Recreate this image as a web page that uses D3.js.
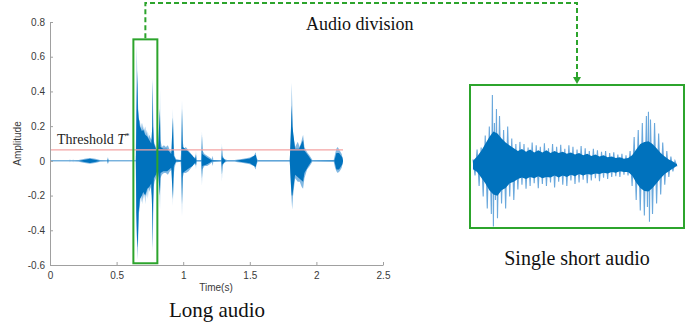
<!DOCTYPE html>
<html>
<head>
<meta charset="utf-8">
<script src="https://cdn.jsdelivr.net/npm/d3@7"></script>
<style>
  body { margin: 0; background: #fff; }
  svg { display: block; }
</style>
</head>
<body>
<div id="chart"></div>
<script>
// axis ticks
const xTicks = [0, 0.5, 1, 1.5, 2, 2.5];
const yTicks = [-0.6, -0.4, -0.2, 0, 0.2, 0.4, 0.6, 0.8];

// threshold T* and the cut-out window (time s, amplitude)
const threshold = 0.063;
const thresholdEnd = 2.2;
const windowT = [0.626, 0.806];
const windowA = [-0.59, 0.7];

// long audio envelope: [time, upper, lower]; outer = light tips, body = dark fill
const longOuter = [
  [0, 0.004, -0.004], [0.148, 0.004, -0.004], [0.150, 0.012, -0.01], [0.152, 0.004, -0.004],
  [0.171, 0.004, -0.004], [0.173, 0.01, -0.01], [0.175, 0.004, -0.004],
  [0.215, 0.005, -0.005], [0.26, 0.012, -0.012], [0.30, 0.017, -0.016], [0.34, 0.012, -0.012], [0.375, 0.005, -0.005],
  [0.43, 0.004, -0.004], [0.435, 0.022, -0.02], [0.44, 0.004, -0.004],
  [0.643, 0.004, -0.004], [0.647, 0.2, -0.2], [0.651, 0.67, -0.4], [0.656, 0.45, -0.57], [0.662, 0.3, -0.45],
  [0.668, 0.24, -0.3], [0.675, 0.23, -0.26], [0.68, 0.19, -0.2], [0.685, 0.22, -0.24], [0.69, 0.18, -0.19],
  [0.695, 0.22, -0.25], [0.70, 0.17, -0.19], [0.705, 0.2, -0.22], [0.71, 0.17, -0.18], [0.715, 0.2, -0.25],
  [0.72, 0.15, -0.17], [0.725, 0.18, -0.21], [0.73, 0.14, -0.16], [0.735, 0.17, -0.22], [0.74, 0.13, -0.15],
  [0.745, 0.15, -0.18], [0.755, 0.13, -0.15], [0.765, 0.12, -0.2],
  [0.768, 0.3, -0.3], [0.771, 0.48, -0.53], [0.774, 0.3, -0.35], [0.778, 0.12, -0.15], [0.785, 0.1, -0.12],
  [0.795, 0.08, -0.1], [0.803, 0.06, -0.08], [0.81, 0.08, -0.06], [0.82, 0.06, -0.1],
  [0.823, 0.15, -0.2], [0.826, 0.41, -0.28], [0.829, 0.12, -0.1], [0.84, 0.08, -0.08], [0.855, 0.09, -0.07],
  [0.87, 0.08, -0.07], [0.885, 0.09, -0.08], [0.90, 0.06, -0.06], [0.915, 0.05, -0.05],
  [0.92, 0.1, -0.1], [0.923, 0.30, -0.26], [0.926, 0.1, -0.1], [0.935, 0.03, -0.04], [0.946, 0.01, -0.01],
  [0.98, 0.005, -0.005], [0.987, 0.08, -0.08], [0.991, 0.35, -0.32], [0.995, 0.12, -0.1], [1.005, 0.07, -0.07],
  [1.02, 0.08, -0.07], [1.04, 0.06, -0.06], [1.06, 0.04, -0.04], [1.08, 0.02, -0.02],
  [1.094, 0.02, -0.02], [1.096, 0.06, -0.05], [1.099, 0.005, -0.005],
  [1.135, 0.005, -0.005], [1.138, 0.06, -0.06], [1.141, 0.17, -0.14], [1.144, 0.06, -0.05], [1.16, 0.04, -0.03],
  [1.18, 0.03, -0.03], [1.20, 0.02, -0.02], [1.215, 0.01, -0.01], [1.222, 0.03, -0.03], [1.226, 0.005, -0.005],
  [1.285, 0.005, -0.005], [1.289, 0.04, -0.04], [1.291, 0.10, -0.12], [1.294, 0.03, -0.03], [1.31, 0.01, -0.01],
  [1.33, 0.005, -0.005], [1.385, 0.005, -0.005], [1.45, 0.012, -0.012], [1.50, 0.02, -0.02], [1.53, 0.03, -0.03],
  [1.545, 0.05, -0.05], [1.55, 0.02, -0.02], [1.56, 0.005, -0.005],
  [1.80, 0.005, -0.005], [1.806, 0.1, -0.1], [1.812, 0.3, -0.2], [1.815, 0.45, -0.24], [1.818, 0.35, -0.28],
  [1.825, 0.15, -0.2], [1.84, 0.08, -0.1], [1.86, 0.11, -0.12], [1.875, 0.08, -0.12], [1.89, 0.12, -0.15],
  [1.90, 0.15, -0.16], [1.91, 0.08, -0.1], [1.93, 0.05, -0.05], [1.95, 0.03, -0.03], [1.97, 0.005, -0.005],
  [2.13, 0.005, -0.005], [2.14, 0.04, -0.04], [2.15, 0.07, -0.06], [2.16, 0.08, -0.07], [2.175, 0.06, -0.06],
  [2.19, 0.04, -0.04], [2.2, 0.004, -0.004]
];
const longBody = [
  [0, 0.0008, -0.0008], [0.22, 0.001, -0.001], [0.30, 0.012, -0.012], [0.375, 0.001, -0.001],
  [0.432, 0.0008, -0.0008], [0.435, 0.015, -0.015], [0.438, 0.0008, -0.0008],
  [0.645, 0.0008, -0.0008], [0.648, 0.2, -0.3], [0.655, 0.52, -0.5], [0.660, 0.3, -0.45], [0.665, 0.25, -0.3],
  [0.675, 0.2, -0.22], [0.69, 0.17, -0.2], [0.70, 0.18, -0.18], [0.715, 0.15, -0.2], [0.73, 0.14, -0.16],
  [0.745, 0.12, -0.15], [0.76, 0.1, -0.13], [0.768, 0.2, -0.3], [0.771, 0.46, -0.5], [0.774, 0.2, -0.25],
  [0.78, 0.1, -0.1], [0.795, 0.07, -0.08], [0.81, 0.06, -0.05], [0.825, 0.3, -0.2], [0.83, 0.08, -0.07],
  [0.85, 0.07, -0.06], [0.88, 0.07, -0.06], [0.91, 0.04, -0.04], [0.923, 0.25, -0.22], [0.93, 0.03, -0.03],
  [0.946, 0.004, -0.004], [0.985, 0.004, -0.004], [0.991, 0.3, -0.25], [0.997, 0.08, -0.07], [1.03, 0.06, -0.05],
  [1.07, 0.03, -0.03], [1.09, 0.01, -0.01], [1.096, 0.04, -0.03], [1.1, 0.001, -0.001], [1.137, 0.001, -0.001],
  [1.141, 0.15, -0.1], [1.145, 0.04, -0.03], [1.18, 0.02, -0.02], [1.215, 0.004, -0.004], [1.287, 0.001, -0.001],
  [1.291, 0.08, -0.08], [1.295, 0.02, -0.02], [1.32, 0.001, -0.001], [1.39, 0.001, -0.001], [1.5, 0.014, -0.014],
  [1.545, 0.035, -0.035], [1.555, 0.001, -0.001], [1.80, 0.001, -0.001], [1.81, 0.2, -0.15], [1.815, 0.32, -0.2],
  [1.82, 0.2, -0.2], [1.84, 0.07, -0.08], [1.87, 0.07, -0.1], [1.9, 0.12, -0.12], [1.91, 0.06, -0.07],
  [1.94, 0.03, -0.03], [1.965, 0.001, -0.001], [2.135, 0.002, -0.002], [2.15, 0.045, -0.05], [2.17, 0.045, -0.05],
  [2.195, 0.02, -0.02], [2.2, 0.0008, -0.0008]
];

// single short audio: trace samples [relative position 0..1, normalised amplitude]
const shortTrace = [
  [0, 0.08], [0.01, -0.15], [0.02, 0.22], [0.03, -0.3], [0.04, 0.25], [0.05, -0.45], [0.06, 0.42], [0.07, -0.62],
  [0.08, 0.55], [0.09, -0.7], [0.095, 1.0], [0.10, -0.88], [0.105, 0.6], [0.11, -0.5], [0.115, 0.8], [0.12, -0.76],
  [0.13, 0.7], [0.14, -0.55], [0.15, 0.5], [0.16, -0.62], [0.17, 0.55], [0.18, -0.45], [0.19, 0.38], [0.20, -0.5],
  [0.21, 0.3], [0.22, -0.35], [0.23, 0.33], [0.24, -0.28], [0.25, 0.3], [0.26, -0.34], [0.27, 0.25], [0.28, -0.3],
  [0.29, 0.32], [0.30, -0.26], [0.31, 0.28], [0.32, -0.33], [0.33, 0.26], [0.34, -0.27], [0.35, 0.31], [0.36, -0.3],
  [0.37, 0.24], [0.38, -0.25], [0.39, 0.3], [0.40, -0.32], [0.41, 0.26], [0.42, -0.24], [0.43, 0.29], [0.44, -0.28],
  [0.45, 0.23], [0.46, -0.3], [0.47, 0.28], [0.48, -0.22], [0.49, 0.26], [0.50, -0.27], [0.51, 0.22], [0.52, -0.25],
  [0.53, 0.27], [0.54, -0.21], [0.55, 0.24], [0.56, -0.26], [0.57, 0.2], [0.58, -0.22], [0.59, 0.23], [0.60, -0.19],
  [0.61, 0.21], [0.62, -0.23], [0.63, 0.19], [0.64, -0.18], [0.65, 0.2], [0.66, -0.2], [0.67, 0.17], [0.68, -0.17],
  [0.69, 0.18], [0.70, -0.16], [0.71, 0.15], [0.72, -0.17], [0.73, 0.16], [0.74, -0.14], [0.75, 0.14], [0.76, -0.15],
  [0.77, 0.2], [0.78, -0.3], [0.79, 0.4], [0.80, -0.5], [0.81, 0.5], [0.82, -0.65], [0.83, 0.6], [0.84, -0.72],
  [0.85, 0.7], [0.855, -0.6], [0.86, 0.76], [0.865, -0.81], [0.87, 0.65], [0.88, -0.7], [0.89, 0.6], [0.90, -0.55],
  [0.91, 0.45], [0.92, -0.42], [0.93, 0.32], [0.94, -0.28], [0.95, 0.2], [0.96, -0.17], [0.97, 0.12], [0.98, -0.09],
  [0.99, 0.06], [1.0, -0.02]
];
// single short audio dense body: [relative position, upper, lower]
const shortBody = [
  [0, 0.06, -0.06], [0.02, 0.12, -0.1], [0.04, 0.2, -0.18], [0.06, 0.3, -0.26], [0.08, 0.4, -0.36], [0.1, 0.48, -0.42],
  [0.12, 0.45, -0.44], [0.14, 0.38, -0.36], [0.16, 0.32, -0.33], [0.18, 0.28, -0.26], [0.2, 0.24, -0.24], [0.22, 0.2, -0.2],
  [0.24, 0.23, -0.18], [0.26, 0.19, -0.2], [0.28, 0.22, -0.17], [0.3, 0.18, -0.19], [0.32, 0.21, -0.16], [0.34, 0.18, -0.19],
  [0.36, 0.21, -0.17], [0.38, 0.17, -0.18], [0.4, 0.2, -0.15], [0.42, 0.17, -0.18], [0.44, 0.19, -0.15], [0.46, 0.16, -0.17],
  [0.48, 0.18, -0.14], [0.5, 0.15, -0.16], [0.52, 0.17, -0.13], [0.54, 0.14, -0.15], [0.56, 0.16, -0.13], [0.58, 0.13, -0.14],
  [0.6, 0.15, -0.12], [0.62, 0.12, -0.13], [0.64, 0.14, -0.11], [0.66, 0.11, -0.12], [0.68, 0.12, -0.1], [0.7, 0.1, -0.11],
  [0.72, 0.11, -0.09], [0.74, 0.09, -0.1], [0.76, 0.1, -0.1], [0.78, 0.14, -0.15], [0.8, 0.22, -0.25], [0.82, 0.3, -0.33],
  [0.84, 0.33, -0.37], [0.86, 0.34, -0.38], [0.88, 0.3, -0.33], [0.9, 0.24, -0.26], [0.92, 0.17, -0.19], [0.94, 0.12, -0.13],
  [0.96, 0.08, -0.09], [0.98, 0.05, -0.05], [1, 0.01, -0.01]
];

const W = 699, H = 336;
const blue = '#0072bd', lightBlue = '#82b8e2', green = '#2ca42c';
const serif = '"Liberation Serif", "Times New Roman", serif';
const sans = '"Liberation Sans", Arial, sans-serif';

const svg = d3.select('#chart').append('svg')
  .attr('width', W).attr('height', H)
  .attr('viewBox', [0, 0, W, H]);

// main plot scales
const x = d3.scaleLinear().domain([0, 2.5]).range([50, 383]);
const y = d3.scaleLinear().domain([-0.6, 0.8]).range([265, 22]);

const longArea = d3.area().x(d => x(d[0])).y0(d => y(d[2])).y1(d => y(d[1]));
svg.append('path').datum(longOuter).attr('d', longArea).attr('fill', lightBlue);
svg.append('path').datum(longBody).attr('d', longArea).attr('fill', blue);

// threshold line
svg.append('line')
  .attr('x1', x(0)).attr('x2', x(thresholdEnd))
  .attr('y1', y(threshold)).attr('y2', y(threshold))
  .attr('stroke', '#f4a3a3').attr('stroke-width', 1.3);

const thr = svg.append('text')
  .attr('x', 57).attr('y', y(threshold) - 6)
  .attr('font-family', serif).attr('font-size', 14).attr('fill', '#222');
thr.append('tspan').text('Threshold ');
thr.append('tspan').attr('font-style', 'italic').text('T');
thr.append('tspan').attr('font-size', 9).attr('dy', -5).text('*');

// axes
const fmt = v => String(+v.toFixed(1));
const yAxis = svg.append('g')
  .attr('transform', `translate(${x(0)},0)`)
  .call(d3.axisLeft(y).tickValues(yTicks).tickFormat(fmt).tickSize(-3).tickSizeOuter(0).tickPadding(5));
const xAxis = svg.append('g')
  .attr('transform', `translate(0,${y(-0.6)})`)
  .call(d3.axisBottom(x).tickValues(xTicks).tickFormat(fmt).tickSize(-3).tickSizeOuter(0).tickPadding(7));
[xAxis, yAxis].forEach(g => {
  g.select('.domain').attr('stroke', '#a0a0a0');
  g.selectAll('.tick line').attr('stroke', '#a0a0a0');
  g.selectAll('.tick text').attr('fill', '#3a3a3a').attr('font-family', sans).attr('font-size', 10);
});

svg.append('text')
  .attr('transform', `translate(21,${y(0.1)}) rotate(-90)`)
  .attr('text-anchor', 'middle')
  .attr('font-family', sans).attr('font-size', 10).attr('fill', '#3a3a3a')
  .text('Amplitude');
svg.append('text')
  .attr('x', 216).attr('y', 291).attr('text-anchor', 'middle')
  .attr('font-family', sans).attr('font-size', 10).attr('fill', '#3a3a3a')
  .text('Time(s)');

// cut-out window
svg.append('rect')
  .attr('x', x(windowT[0])).attr('y', y(windowA[1]))
  .attr('width', x(windowT[1]) - x(windowT[0]))
  .attr('height', y(windowA[0]) - y(windowA[1]))
  .attr('fill', 'none').attr('stroke', green).attr('stroke-width', 2);

// zoomed panel
const panel = { x0: 470, x1: 684, y0: 85, y1: 228 };
const sx = d3.scaleLinear().domain([0, 1]).range([473, 677]);
const sy = d3.scaleLinear().domain([-1, 1]).range([235, 95]);
svg.append('path').datum(shortTrace)
  .attr('d', d3.line().x(d => sx(d[0])).y(d => sy(d[1])))
  .attr('fill', 'none').attr('stroke', '#6aa8dc').attr('stroke-width', 1.1);
svg.append('path').datum(shortBody)
  .attr('d', d3.area().x(d => sx(d[0])).y0(d => sy(d[2])).y1(d => sy(d[1])))
  .attr('fill', blue);
svg.append('rect')
  .attr('x', panel.x0).attr('y', panel.y0)
  .attr('width', panel.x1 - panel.x0).attr('height', panel.y1 - panel.y0)
  .attr('fill', 'none').attr('stroke', green).attr('stroke-width', 2);

// dashed connector with arrow
const midW = (x(windowT[0]) + x(windowT[1])) / 2;
const arrowX = 577;
svg.append('path')
  .attr('d', `M${midW},${y(windowA[1]) - 1} V3 H${arrowX} V${panel.y0 - 7}`)
  .attr('fill', 'none').attr('stroke', green).attr('stroke-width', 2)
  .attr('stroke-dasharray', '5,3');
svg.append('path')
  .attr('d', `M${arrowX - 4},${panel.y0 - 8} L${arrowX + 4},${panel.y0 - 8} L${arrowX},${panel.y0 - 1} Z`)
  .attr('fill', green);

// captions
svg.append('text').attr('x', 306).attr('y', 30)
  .attr('font-family', serif).attr('font-size', 18).attr('fill', '#111')
  .text('Audio division');
svg.append('text').attr('x', 577).attr('y', 265).attr('text-anchor', 'middle')
  .attr('font-family', serif).attr('font-size', 20).attr('fill', '#111')
  .text('Single short audio');
svg.append('text').attr('x', 217).attr('y', 317).attr('text-anchor', 'middle')
  .attr('font-family', serif).attr('font-size', 21).attr('fill', '#111')
  .text('Long audio');
</script>
</body>
</html>
